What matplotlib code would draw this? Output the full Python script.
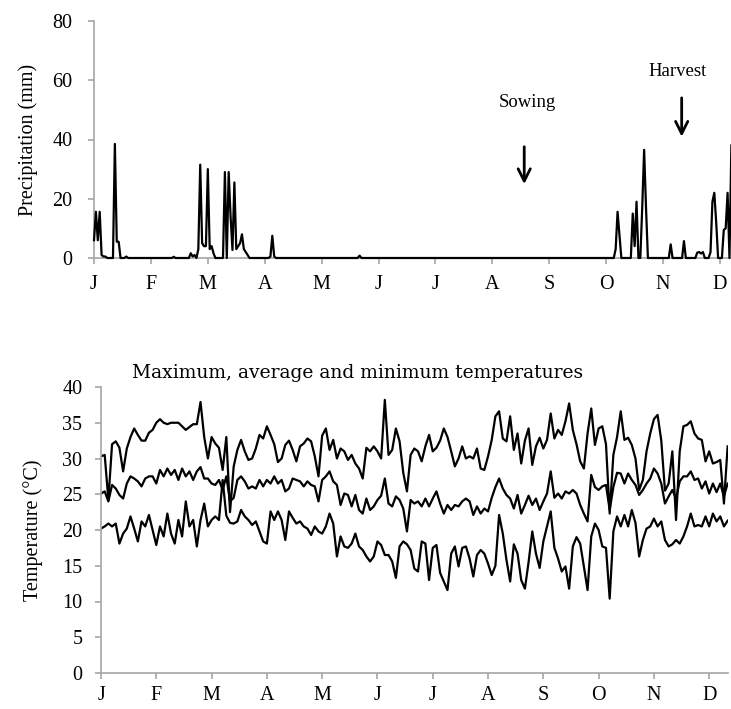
import matplotlib
matplotlib.use("Agg")
import matplotlib.pyplot as plt
import numpy as np

# month labels, one tick every 30 days
months = ["J", "F", "M", "A", "M", "J", "J", "A", "S", "O", "N", "D"]

# rainy days (day of year from 0) and rain in mm, all other days are 0
rain_day = [0, 1, 2, 3, 4, 5, 6, 11, 12, 13, 17, 42, 51, 52, 53, 55, 56, 57, 58, 59,
            60, 61, 62, 63, 69, 71, 72, 73, 74, 75, 76, 77, 78, 79, 80, 81, 93, 94, 95, 140,
            275, 276, 277, 284, 285, 286, 289, 290, 291, 304, 311, 318, 319, 320, 321,
            325, 326, 327, 328, 332, 333, 334, 336]
rain_mm = [6, 15.6, 6, 15.6, 1, 0.5, 0.5, 38.5, 5.5, 5.5, 0.5, 0.4, 1.6, 0.5, 1, 3, 31.5, 5, 4, 4,
           30, 3, 4, 1.6, 29, 29, 14, 2.7, 25.5, 3, 4, 5, 8, 3, 2, 1, 0.5, 7.5, 0.5, 0.8,
           3, 15.6, 8, 15, 4, 19, 17, 36.5, 17, 4.6, 5.7, 1.8, 2.0, 1.5, 2.0,
           2, 19, 22, 12, 9.5, 10, 22, 38]

# temperatures read every 2nd day, day 0 .. 340
tmax = [30.3, 30.5, 24.2, 32.0, 32.4, 31.5, 28.2, 31.4, 33.0, 34.2,
        33.3, 32.5, 32.5, 33.6, 34.0, 35.0, 35.5, 35.0, 34.8, 35.0,
        35.0, 35.0, 34.5, 34.0, 34.4, 34.8, 34.8, 37.9, 33.0, 30.0,
        33.0, 32.1, 31.5, 28.4, 33.0, 22.5, 28.9, 31.2, 32.6, 31.0,
        29.8, 30.0, 31.4, 33.3, 32.8, 34.5, 33.3, 32.0, 29.5, 30.0,
        31.9, 32.5, 31.2, 29.6, 31.7, 32.1, 32.8, 32.4, 30.3, 27.5,
        33.2, 34.2, 31.2, 32.6, 30.0, 31.4, 31.0, 29.8, 30.5, 29.3,
        28.6, 27.2, 31.5, 31.0, 31.7, 31.0, 30.0, 38.2, 30.5, 31.2,
        34.2, 32.4, 28.0, 25.4, 30.5, 31.4, 31.0, 29.6, 31.7, 33.3,
        31.0, 31.5, 32.5, 34.2, 33.0, 31.0, 28.9, 30.0, 31.7, 30.0,
        30.3, 30.0, 31.4, 28.6, 28.4, 30.3, 32.6, 35.9, 36.6, 32.8,
        32.4, 35.9, 31.2, 33.5, 29.3, 32.5, 34.2, 29.1, 31.7, 32.9,
        31.4, 32.6, 36.3, 32.8, 34.0, 33.3, 35.2, 37.7, 34.0, 32.0,
        29.6, 28.6, 33.5, 37.0, 31.9, 34.2, 34.5, 32.0, 22.3, 30.5,
        33.0, 36.6, 32.6, 32.9, 31.9, 30.0, 25.6, 27.0, 31.0, 33.5,
        35.5, 36.1, 32.5, 25.5, 26.5, 31.0, 21.4, 31.0, 34.5, 34.7,
        35.2, 33.5, 32.8, 32.6, 29.6, 31.0, 29.3, 29.5, 29.8, 23.7,
        31.7]
tavg = [25.1, 25.4, 24.0, 26.3, 25.8, 24.9, 24.4, 26.5, 27.5, 27.2,
        26.8, 26.1, 27.2, 27.5, 27.5, 26.5, 28.4, 27.5, 28.6, 27.7,
        28.4, 27.0, 28.6, 27.5, 28.2, 27.0, 28.2, 28.8, 27.2, 27.2,
        26.5, 26.3, 27.0, 25.6, 27.5, 24.0, 24.5, 27.0, 27.5, 26.8,
        25.8, 26.1, 25.8, 27.0, 26.1, 27.0, 26.5, 27.5, 26.5, 27.0,
        25.4, 25.8, 27.2, 27.0, 26.8, 26.1, 26.8, 26.3, 26.1, 24.0,
        27.0, 27.5, 28.2, 26.8, 26.3, 23.5, 25.1, 24.9, 23.3, 24.9,
        22.8, 22.3, 24.4, 22.8, 23.3, 24.2, 24.8, 27.2, 23.7, 23.3,
        24.7, 24.2, 23.0, 19.8, 24.2, 23.7, 24.0, 23.3, 24.4, 23.3,
        24.4, 25.4, 23.7, 22.3, 23.5, 22.8, 23.5, 23.3, 24.0, 24.4,
        24.0, 22.1, 23.3, 22.3, 23.0, 22.6, 24.5, 26.0, 27.2, 25.8,
        24.9, 24.4, 23.0, 24.9, 22.3, 23.5, 24.8, 23.5, 24.4, 22.8,
        24.0, 25.1, 28.2, 24.5, 25.1, 24.4, 25.4, 25.1, 25.6, 25.1,
        23.5, 22.3, 21.2, 27.7, 26.0, 25.6, 26.1, 26.3, 22.8, 26.0,
        28.0, 27.9, 26.5, 27.9, 27.0, 26.3, 24.9, 25.6, 26.5, 27.2,
        28.6, 27.9, 26.5, 23.7, 24.7, 25.6, 24.4, 26.8, 27.5, 27.5,
        28.2, 27.0, 27.2, 25.8, 26.8, 25.1, 26.5, 25.3, 26.5, 24.7,
        26.5]
tmin = [20.2, 20.5, 20.9, 20.5, 20.9, 18.1, 19.5, 20.2, 21.9, 20.2,
        18.4, 21.2, 20.5, 22.1, 20.0, 17.9, 20.5, 19.1, 22.3, 19.5,
        18.1, 21.4, 19.1, 24.0, 20.5, 21.4, 17.7, 21.4, 23.7, 20.5,
        21.4, 21.9, 21.4, 27.0, 22.0, 21.0, 20.9, 21.2, 22.8, 21.9,
        21.4, 20.7, 21.2, 19.8, 18.4, 18.1, 22.6, 21.4, 22.6, 21.4,
        18.6, 22.6, 21.7, 20.9, 21.2, 20.5, 20.2, 19.3, 20.5, 19.8,
        19.5, 20.5, 22.3, 20.9, 16.3, 19.1, 17.7, 17.5, 18.1, 19.5,
        17.7, 17.2, 16.3, 15.6, 16.3, 18.4, 17.9, 16.5, 16.5, 15.6,
        13.3, 17.7, 18.4, 18.0, 17.2, 14.6, 14.2, 18.4, 18.1, 13.0,
        17.5, 17.9, 14.0, 12.8, 11.6, 16.7, 17.7, 14.9, 17.5, 17.7,
        16.0, 13.5, 16.5, 17.2, 16.7, 15.3, 13.7, 15.0, 22.1, 19.5,
        15.8, 12.8, 18.0, 16.7, 13.0, 11.8, 15.5, 19.8, 16.7, 14.7,
        18.4, 20.5, 22.6, 17.5, 16.0, 14.2, 14.9, 11.8, 17.7, 19.0,
        18.1, 14.9, 11.6, 19.1, 20.9, 20.0, 17.7, 17.5, 10.4, 19.8,
        21.9, 20.5, 22.1, 20.5, 22.8, 21.0, 16.3, 18.6, 20.2, 20.5,
        21.6, 20.5, 21.2, 18.6, 17.7, 18.0, 18.6, 18.1, 19.1, 20.5,
        22.3, 20.5, 20.7, 20.5, 21.9, 20.5, 22.3, 21.2, 21.9, 20.5,
        21.3]

plt.rcParams['font.family'] = ['Liberation Serif', 'DejaVu Serif']
plt.rcParams['font.size'] = 14.5
grey = '#a6a6a6'

W, H = 731, 709
fig = plt.figure(figsize=(W / 100, H / 100), dpi=100)


def style_axes(ax, ypad, xpad):
    for s in ['top', 'right']:
        ax.spines[s].set_visible(False)
    for s in ['left', 'bottom']:
        ax.spines[s].set_color(grey)
        ax.spines[s].set_linewidth(1.2)
    ax.tick_params(axis='both', color=grey, width=1.2, length=4.5, direction='out')
    ax.tick_params(axis='y', pad=ypad)
    ax.tick_params(axis='x', pad=xpad)
    ax.set_xticks(np.arange(len(months)) * 30)
    ax.set_xticklabels(months)


# precipitation
days = np.arange(0, 337)
rain = np.zeros(len(days))
rain[rain_day] = rain_mm

ax1 = fig.add_axes([94 / W, 1 - 258 / H, (W - 94) / W, 237 / H])
ax1.plot(days, rain, color='black', lw=1.6, clip_on=False, zorder=3)
ax1.set_xlim(0, 335.8)
ax1.set_ylim(0, 80)
ax1.set_yticks([0, 20, 40, 60, 80])
ax1.set_ylabel('Precipitation (mm)', labelpad=10)
style_axes(ax1, 11, 8)

ax1.annotate('', xy=(226.8, 24), xytext=(226.8, 38.5),
             arrowprops=dict(arrowstyle='->', color='black', lw=2, mutation_scale=22))
ax1.text(228.5, 52.4, 'Sowing', ha='center', va='center', fontsize=13.5)
ax1.annotate('', xy=(309.8, 40), xytext=(309.8, 55),
             arrowprops=dict(arrowstyle='->', color='black', lw=2, mutation_scale=22))
ax1.text(307.8, 63.1, 'Harvest', ha='center', va='center', fontsize=13.5)

# temperatures
tdays = np.arange(0, 341, 2)
ax2 = fig.add_axes([101 / W, 1 - 673 / H, 627 / W, 286 / H])
for series in [tmax, tavg, tmin]:
    ax2.plot(tdays, series, color='black', lw=1.6)
ax2.set_xlim(0, 340.2)
ax2.set_ylim(0, 40)
ax2.set_yticks(np.arange(0, 41, 5))
ax2.set_ylabel('Temperature (°C)', labelpad=14)
style_axes(ax2, 9, 5)

fig.text(358 / W, 1 - 373 / H, 'Maximum, average and minimum temperatures',
         ha='center', va='center', fontsize=13.5, family='DejaVu Serif')

fig.savefig('out.png', dpi=100)
